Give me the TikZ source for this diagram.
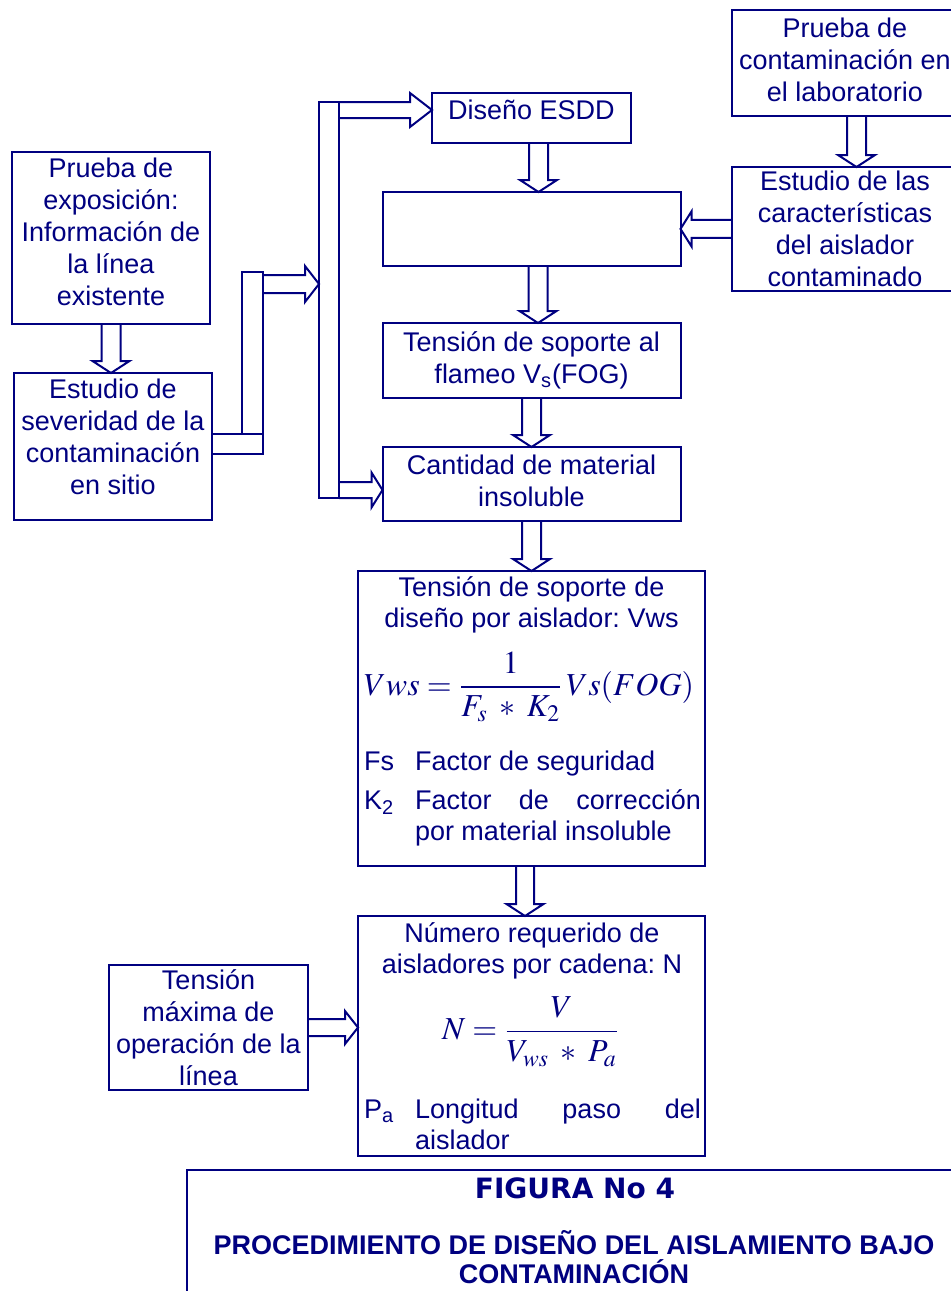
\documentclass[tikz,border=0pt]{standalone}
\usepackage{mathptmx}
\usepackage[no-math]{fontspec}
\setmainfont{Liberation Sans}
\newfontfamily\capfont{DejaVu Sans}
\usetikzlibrary{positioning,calc}
\definecolor{navy}{RGB}{0,0,128}

\newcommand{\keyline}[2]{\hangindent=25.5pt\hangafter=1\noindent\makebox[25.5pt][l]{#1}#2\par}
\hbadness=10000
\frenchspacing

\tikzset{
  fat shaft/.store in=\fatsw, fat head/.store in=\fathw, fat tip/.store in=\fathl,
  fat shaft=4.75pt, fat head=9.25pt, fat tip=6pt,
}

\begin{document}
\begin{tikzpicture}[
    x=0.5pt, y=-0.5pt,
    line width=1pt,
    box/.style={draw=navy, text=navy, align=center, inner sep=2pt, outer sep=0pt,
                font=\fontsize{13.5}{16}\selectfont},
    bar/.style={draw=navy, inner sep=0pt, outer sep=0pt},
    inbox/.style={text=navy, align=center, inner sep=0pt,
                  font=\fontsize{13.5}{15.5}\selectfont},
    formula/.style={text=navy, inner sep=0pt, font=\fontsize{16}{19}\selectfont},
    keylist/.style={text=navy, inner sep=0pt, anchor=north west, text width=168.5pt,
                    align=justify, font=\fontsize{13.5}{15.5}\selectfont},
    fat/.style={draw=navy, to path={
        ($(\tikztostart)!\fatsw!90:(\tikztotarget)$)
        -- ($($(\tikztotarget)!\fathl!(\tikztostart)$)!\fatsw!90:(\tikztotarget)$)
        -- ($($(\tikztotarget)!\fathl!(\tikztostart)$)!\fathw!90:(\tikztotarget)$)
        -- (\tikztotarget)
        -- ($($(\tikztotarget)!\fathl!(\tikztostart)$)!\fathw!-90:(\tikztotarget)$)
        -- ($($(\tikztotarget)!\fathl!(\tikztostart)$)!\fatsw!-90:(\tikztotarget)$)
        -- ($(\tikztostart)!\fatsw!-90:(\tikztotarget)$)}},
  ]
  \useasboundingbox (0,0) rectangle (951,1291);
  \clip (0,0) rectangle (951,1291);

  % left column
  \node[box, minimum width=99pt, minimum height=86pt, text depth=6pt] (expo) at (111,238)
    {Prueba de\\exposición:\\Información de\\la línea\\existente};
  \node[box, minimum width=99pt, minimum height=73.5pt, text depth=9.5pt, below=24.5pt of expo, xshift=1pt] (sever)
    {Estudio de\\severidad de la\\contaminación\\en sitio};

  % centre column
  \node[box, minimum width=99.5pt, minimum height=25pt, text depth=8pt] (esdd) at (531.5,118) {Diseño ESDD};
  \node[box, minimum width=149pt, minimum height=37pt, below=24.5pt of esdd] (blank) {};
  \node[box, minimum width=149pt, minimum height=37.5pt, below=28.5pt of blank] (flameo)
    {Tensión de soporte al\\flameo V\textsubscript{s}(FOG)};
  \node[box, minimum width=149pt, minimum height=37pt, text depth=3pt, below=24.5pt of flameo] (insol)
    {Cantidad de material\\insoluble};
  \node[box, minimum width=173.5pt, minimum height=147.5pt, below=25pt of insol] (design) {};
  \node[box, minimum width=173.5pt, minimum height=120pt, below=25pt of design] (number) {};

  % right column
  \node[box, minimum width=113pt, minimum height=53pt, text depth=3pt] (labtest) at (845,63)
    {Prueba de\\contaminación en\\el laboratorio};
  \node[box, minimum width=113pt, minimum height=61.5pt, below=25.5pt of labtest] (charact)
    {Estudio de las\\características\\del aislador\\contaminado};

  % bottom left
  \node[box, minimum width=99.5pt, minimum height=61.5pt, left=25pt of number, yshift=4.25pt] (maxvolt)
    {Tensión\\máxima de\\operación de la\\línea};

  % design box contents
  \node[inbox] (designhead) at (531.5,604.5) {Tensión de soporte de\\diseño por aislador: Vws};
  \node[formula] (designeq) at (529,687)
    {$\displaystyle Vws=\frac{1}{F_{s}\;\ast\;K_{2}}\,Vs(FOG)$};
  \node[keylist] (designkey) at (363,750)
    {\parskip=4pt
     \keyline{Fs}{Factor de seguridad}
     \keyline{K\textsubscript{2}}{Factor de corrección\linebreak por material insoluble}};

  % number box contents
  \node[inbox] (numberhead) at (532,950.5) {Número requerido de\\aisladores por cadena: N};
  \node[formula] (numbereq) at (530.5,1032)
    {$\displaystyle N=\frac{V}{V_{ws}\;\ast\;P_{a}}$};
  \node[keylist] (numberkey) at (363,1097.5)
    {\keyline{P\textsubscript{a}}{Longitud paso del\linebreak aislador}};

  % bars feeding the centre column
  \node[bar, minimum width=25.5pt, minimum height=10pt, anchor=west, yshift=1.25pt] (stub) at (sever.east) {};
  \node[bar, minimum width=10.5pt, minimum height=81pt, anchor=south east] (riser) at (stub.north east) {};
  \node[bar, minimum width=10pt, minimum height=198pt] (bus) at (329,300) {};

  \coordinate (riserout) at ([yshift=-6pt]riser.north east);
  \coordinate (bustop) at ([yshift=-4pt]bus.north east);
  \coordinate (busbot) at ([yshift=4pt]bus.south east);
  \draw[fat, fat shaft=4.5pt, fat head=9pt, fat tip=7pt] (riserout) to (riserout -| bus.west);
  \draw[fat, fat shaft=4pt, fat head=8.5pt, fat tip=11pt] (bustop) to (bustop -| esdd.west);
  \draw[fat, fat shaft=4pt, fat head=8.75pt, fat tip=5.5pt] (busbot) to (busbot -| insol.west);

  % block arrows
  \coordinate (labout) at ([xshift=5.75pt]labtest.south);
  \coordinate (esddout) at ([xshift=3.5pt]esdd.south);
  \coordinate (blankout) at ([xshift=3.25pt]blank.south);
  \coordinate (designout) at ([xshift=-3.25pt]design.south);
  \draw[fat] (expo.south) to (expo.south |- sever.north);
  \draw[fat] (labout) to (labout |- charact.north);
  \draw[fat, fat shaft=4.5pt, fat head=8.75pt, fat tip=5.5pt] (charact.west) to (charact.west -| blank.east);
  \draw[fat] (esddout) to (esddout |- blank.north);
  \draw[fat] (blankout) to (blankout |- flameo.north);
  \draw[fat] (flameo.south) to (flameo.south |- insol.north);
  \draw[fat] (insol.south) to (insol.south |- design.north);
  \draw[fat, fat shaft=4.5pt] (designout) to (designout |- number.north);
  \draw[fat, fat shaft=4.25pt, fat head=8.25pt, fat tip=6.5pt] (maxvolt.east) to (maxvolt.east -| number.west);

  % caption
  \node[draw=navy, minimum width=387pt, minimum height=75pt, anchor=north west, outer sep=0pt] (capframe) at (187,1170) {};
  \node[text=navy, font=\fontsize{14}{16}\selectfont\capfont\bfseries] (capnum) at (575,1188) {FIGURA No 4};
  \node[text=navy, align=center, font=\fontsize{13.5}{14.5}\selectfont\bfseries] (captitle) at (574,1257.5)
    {PROCEDIMIENTO DE DISEÑO DEL AISLAMIENTO BAJO\\CONTAMINACIÓN};
\end{tikzpicture}
\end{document}
